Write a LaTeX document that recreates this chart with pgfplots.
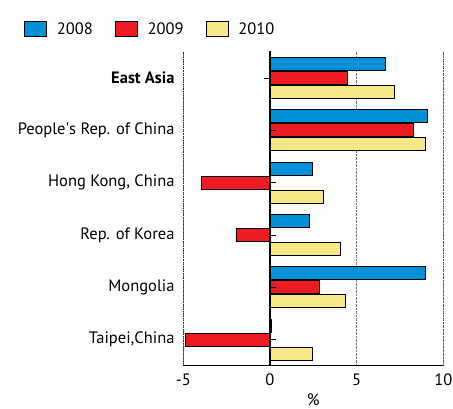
\documentclass[border=0pt]{standalone}
\usepackage{pgfplots}
\pgfplotsset{compat=1.18}
\usepackage{fontspec}
\setmainfont{PT Sans}

\definecolor{c2008}{RGB}{0,144,215}
\definecolor{c2009}{RGB}{237,28,36}
\definecolor{c2010}{RGB}{246,232,134}

\begin{document}
\begin{tikzpicture}
\begin{axis}[
    scale only axis,
    width=260pt, height=314pt,
    xmin=-5, xmax=10,
    ymin=0.5, ymax=6.5,
    xbar, bar width=13pt,
    xtick={-5,0,5,10},
    xticklabels={-5,0,5,10},
    ytick={1,2,3,4,5,6},
    yticklabels={Taipei{,}China, Mongolia, Rep. of Korea, Hong Kong{,} China, People\textquotesingle s Rep. of China, \textbf{East Asia}},
    axis x line*=bottom,
    axis y line*=left,
    y axis line style={draw=none},
    tick style={draw=none},
    xmajorgrids,
    grid style={densely dotted, black!55, line width=0.8pt},
    every tick label/.append style={font=\fontsize{16.5}{18}\selectfont},
    yticklabel style={xshift=-1pt},
    xticklabel style={yshift=-5pt},
    xlabel={\%},
    xlabel style={font=\fontsize{16.5}{18}\selectfont, yshift=-1pt},
    legend columns=3,
    legend image code/.code={\draw[#1, draw=black, line width=0.8pt] (0pt,-7.5pt) rectangle (22pt,7.5pt);},
    legend style={draw=none, fill=none, at={(-0.625,1.072)}, anchor=west,
        font=\fontsize{16.5}{18}\selectfont,
        /tikz/every odd column/.append style={column sep=8pt},
        /tikz/every even column/.append style={column sep=20pt}},
]
\addplot[fill=c2008, draw=black, line width=0.6pt, bar shift=14pt]
    coordinates {(6.64,6) (9.05,5) (2.44,4) (2.25,3) (8.97,2) (0.1,1)};
\addplot[fill=c2009, draw=black, line width=0.6pt, bar shift=0pt]
    coordinates {(4.44,6) (8.25,5) (-3.96,4) (-1.96,3) (2.85,2) (-4.86,1)};
\addplot[fill=c2010, draw=black, line width=0.6pt, bar shift=-14pt]
    coordinates {(7.15,6) (8.97,5) (3.06,4) (4.06,3) (4.37,2) (2.44,1)};
\legend{2008, 2009, 2010}

\draw[densely dotted, black, line width=0.8pt] (axis cs:-5,0.5) -- (axis cs:-5,6.5);
\draw[densely dotted, black, line width=0.8pt] (axis cs:10,0.5) -- (axis cs:10,6.5);
\draw[line width=1.8pt] (axis cs:0,0.5) -- (axis cs:0,6.55);
\draw[semithick] (axis cs:0,6) -- ++(-6pt,0pt);
\pgfplotsinvokeforeach{1,...,5}{\draw[semithick] (axis cs:0,#1) -- ++(6pt,0pt);}
\end{axis}
\pgfresetboundingbox
\path (-183.3pt,-43.3pt) rectangle (269.7pt,365.7pt);
\end{tikzpicture}
\end{document}
